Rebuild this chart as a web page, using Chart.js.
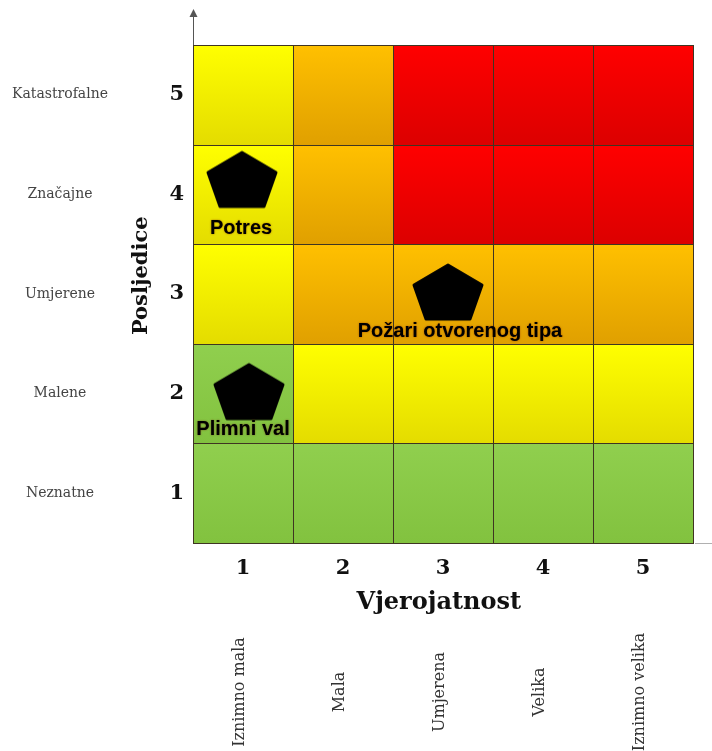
<!DOCTYPE html>
<html><head><meta charset="utf-8">
<script src="https://cdn.jsdelivr.net/npm/chart.js@4"></script>
<style>html,body{margin:0;padding:0;background:#fff;}#wrap{width:712px;height:751px;}</style>
</head><body><div id="wrap"><canvas id="c" width="712" height="751"></canvas></div>
<script>
// ---- data ----
const levels = [1, 2, 3, 4, 5];
const consequenceLabels = ['Neznatne', 'Malene', 'Umjerene', 'Značajne', 'Katastrofalne'];
const probabilityLabels = ['Iznimno mala', 'Mala', 'Umjerena', 'Velika', 'Iznimno velika'];
// risk class per cell, consequence row 1 (bottom) .. 5 (top), probability columns 1..5
const riskRow1 = ['G', 'G', 'G', 'G', 'G'];
const riskRow2 = ['G', 'Y', 'Y', 'Y', 'Y'];
const riskRow3 = ['Y', 'O', 'O', 'O', 'O'];
const riskRow4 = ['Y', 'O', 'R', 'R', 'R'];
const riskRow5 = ['Y', 'O', 'R', 'R', 'R'];
const hazardNames = ['Potres', 'Požari otvorenog tipa', 'Plimni val'];
const hazardX = [0.99, 3.05, 1.06];
const hazardY = [4.15, 3.02, 2.02];
const hazardLabelX = [0.98, 3.17, 1.0];
const hazardLabelY = [3.66, 2.62, 1.64];

// ---- styles ----
const riskRows = [riskRow1, riskRow2, riskRow3, riskRow4, riskRow5];
const riskColors = {
  G: ['#90cf4e', '#82c23f'],
  Y: ['#ffff00', '#e4dc00'],
  O: ['#ffc000', '#e0a000'],
  R: ['#ff0000', '#dc0000']
};
const SERIF = '"DejaVu Serif", serif';

function makePentagon() {
  const cv = document.createElement('canvas');
  cv.width = 72; cv.height = 60;
  const g = cv.getContext('2d');
  g.fillStyle = '#000'; g.strokeStyle = '#000';
  g.lineWidth = 3; g.lineJoin = 'round';
  g.beginPath();
  g.moveTo(36, 3); g.lineTo(70, 23); g.lineTo(58, 57); g.lineTo(14, 57); g.lineTo(2, 23);
  g.closePath(); g.fill(); g.stroke();
  return cv;
}
const pentagon = makePentagon();

const cellsPlugin = {
  id: 'cells',
  beforeDatasetsDraw(chart) {
    const {ctx, scales: {x, y}, chartArea} = chart;
    ctx.save();
    riskRows.forEach((row, ri) => {
      const r = levels[ri];
      row.forEach((cls, ci) => {
        const c = levels[ci];
        const x0 = Math.round(x.getPixelForValue(c - 0.5));
        const x1 = Math.round(x.getPixelForValue(c + 0.5));
        const y0 = Math.round(y.getPixelForValue(r + 0.5));
        const y1 = Math.round(y.getPixelForValue(r - 0.5));
        const gr = ctx.createLinearGradient(0, y0, 0, y1);
        gr.addColorStop(0, riskColors[cls][0]);
        gr.addColorStop(1, riskColors[cls][1]);
        ctx.fillStyle = gr;
        ctx.fillRect(x0, y0, x1 - x0, y1 - y0);
      });
    });
    ctx.strokeStyle = '#3f3522';
    ctx.lineWidth = 1;
    ctx.beginPath();
    for (let k = 0; k <= levels.length; k++) {
      const px = Math.round(x.getPixelForValue(0.5 + k)) + 0.5;
      ctx.moveTo(px, chartArea.top); ctx.lineTo(px, chartArea.bottom + 1);
      const py = Math.round(y.getPixelForValue(0.5 + k)) + 0.5;
      ctx.moveTo(chartArea.left, py); ctx.lineTo(chartArea.right + 1, py);
    }
    ctx.stroke();
    // vertical axis arrow above the matrix
    const ax = Math.round(chartArea.left) + 0.5;
    ctx.strokeStyle = '#555';
    ctx.beginPath();
    ctx.moveTo(ax, chartArea.top); ctx.lineTo(ax, chartArea.top - 33);
    ctx.stroke();
    ctx.fillStyle = '#555';
    ctx.beginPath();
    ctx.moveTo(ax, chartArea.top - 36); ctx.lineTo(ax - 4, chartArea.top - 28); ctx.lineTo(ax + 4, chartArea.top - 28);
    ctx.closePath(); ctx.fill();
    // horizontal axis continuation
    ctx.strokeStyle = '#b0b0b0';
    ctx.beginPath();
    const by = Math.round(chartArea.bottom) + 0.5;
    ctx.moveTo(chartArea.right + 2, by); ctx.lineTo(chart.width, by);
    ctx.stroke();
    ctx.restore();
  },
  afterDatasetsDraw(chart) {
    const {ctx, scales: {x, y}, chartArea} = chart;
    ctx.save();
    ctx.font = 'bold 20px "Liberation Sans", Arial, sans-serif';
    ctx.textAlign = 'center';
    ctx.textBaseline = 'middle';
    ctx.fillStyle = '#000';
    ctx.shadowColor = 'rgba(110,0,0,0.55)';
    ctx.shadowBlur = 2;
    hazardNames.forEach((name, i) => {
      ctx.fillText(name, x.getPixelForValue(hazardLabelX[i]), y.getPixelForValue(hazardLabelY[i]));
    });
    ctx.restore();
    // rotated probability descriptions under the x axis
    ctx.save();
    ctx.font = '16px ' + SERIF;
    ctx.fillStyle = '#333';
    ctx.textAlign = 'center';
    ctx.textBaseline = 'middle';
    probabilityLabels.forEach((lab, i) => {
      ctx.save();
      ctx.translate(x.getPixelForValue(levels[i]) - 3, chartArea.bottom + 149);
      ctx.rotate(-Math.PI / 2);
      ctx.fillText(lab, 0, 0);
      ctx.restore();
    });
    ctx.restore();
  }
};

const fixedTicks = (scale) => { scale.ticks = levels.map(v => ({value: v})); };

new Chart(document.getElementById('c'), {
  type: 'scatter',
  plugins: [cellsPlugin],
  data: {
    datasets: [{
      data: hazardX.map((v, i) => ({x: v, y: hazardY[i]})),
      pointStyle: pentagon,
      pointRadius: 30,
      backgroundColor: '#000',
      borderColor: '#000'
    }]
  },
  options: {
    responsive: false,
    devicePixelRatio: 1,
    animation: false,
    events: [],
    layout: {autoPadding: false, padding: {left: 0, top: 45, right: 19, bottom: 133}},
    plugins: {legend: {display: false}, tooltip: {enabled: false}},
    scales: {
      x: {
        type: 'linear', position: 'bottom', weight: 0,
        min: 0.5, max: 5.5,
        afterBuildTicks: fixedTicks,
        afterFit: (s) => { s.height = 75; s.paddingLeft = 0; s.paddingRight = 0; },
        grid: {display: false, drawTicks: false},
        border: {display: false},
        ticks: {padding: 13, color: '#111', font: {family: SERIF, size: 21, weight: 'bold'}},
        title: {display: true, text: 'Vjerojatnost ', color: '#111', padding: {top: 0, bottom: 1},
                font: {family: SERIF, size: 24, weight: 'bold'}}
      },
      y: {
        type: 'linear', position: 'left', weight: 0,
        min: 0.5, max: 5.5,
        afterBuildTicks: fixedTicks,
        afterFit: (s) => { s.width = 64; s.paddingTop = 0; s.paddingBottom = 0; },
        grid: {display: false, drawTicks: false},
        border: {display: false},
        ticks: {padding: 9, color: '#111', font: {family: SERIF, size: 21, weight: 'bold'}},
        title: {display: true, text: '     Posljedice', color: '#111', padding: {top: 0, bottom: 0},
                font: {family: SERIF, size: 21, weight: 'bold'}}
      },
      y2: {
        type: 'linear', position: 'left', weight: 1,
        min: 0.5, max: 5.5,
        afterBuildTicks: fixedTicks,
        afterFit: (s) => { s.width = 129; s.paddingTop = 0; s.paddingBottom = 0; },
        grid: {display: false, drawTicks: false},
        border: {display: false},
        ticks: {padding: 21, crossAlign: 'center', color: '#444',
                font: {family: SERIF, size: 14},
                callback: (v) => consequenceLabels[levels.indexOf(v)]}
      }
    }
  }
});
</script></body></html>
